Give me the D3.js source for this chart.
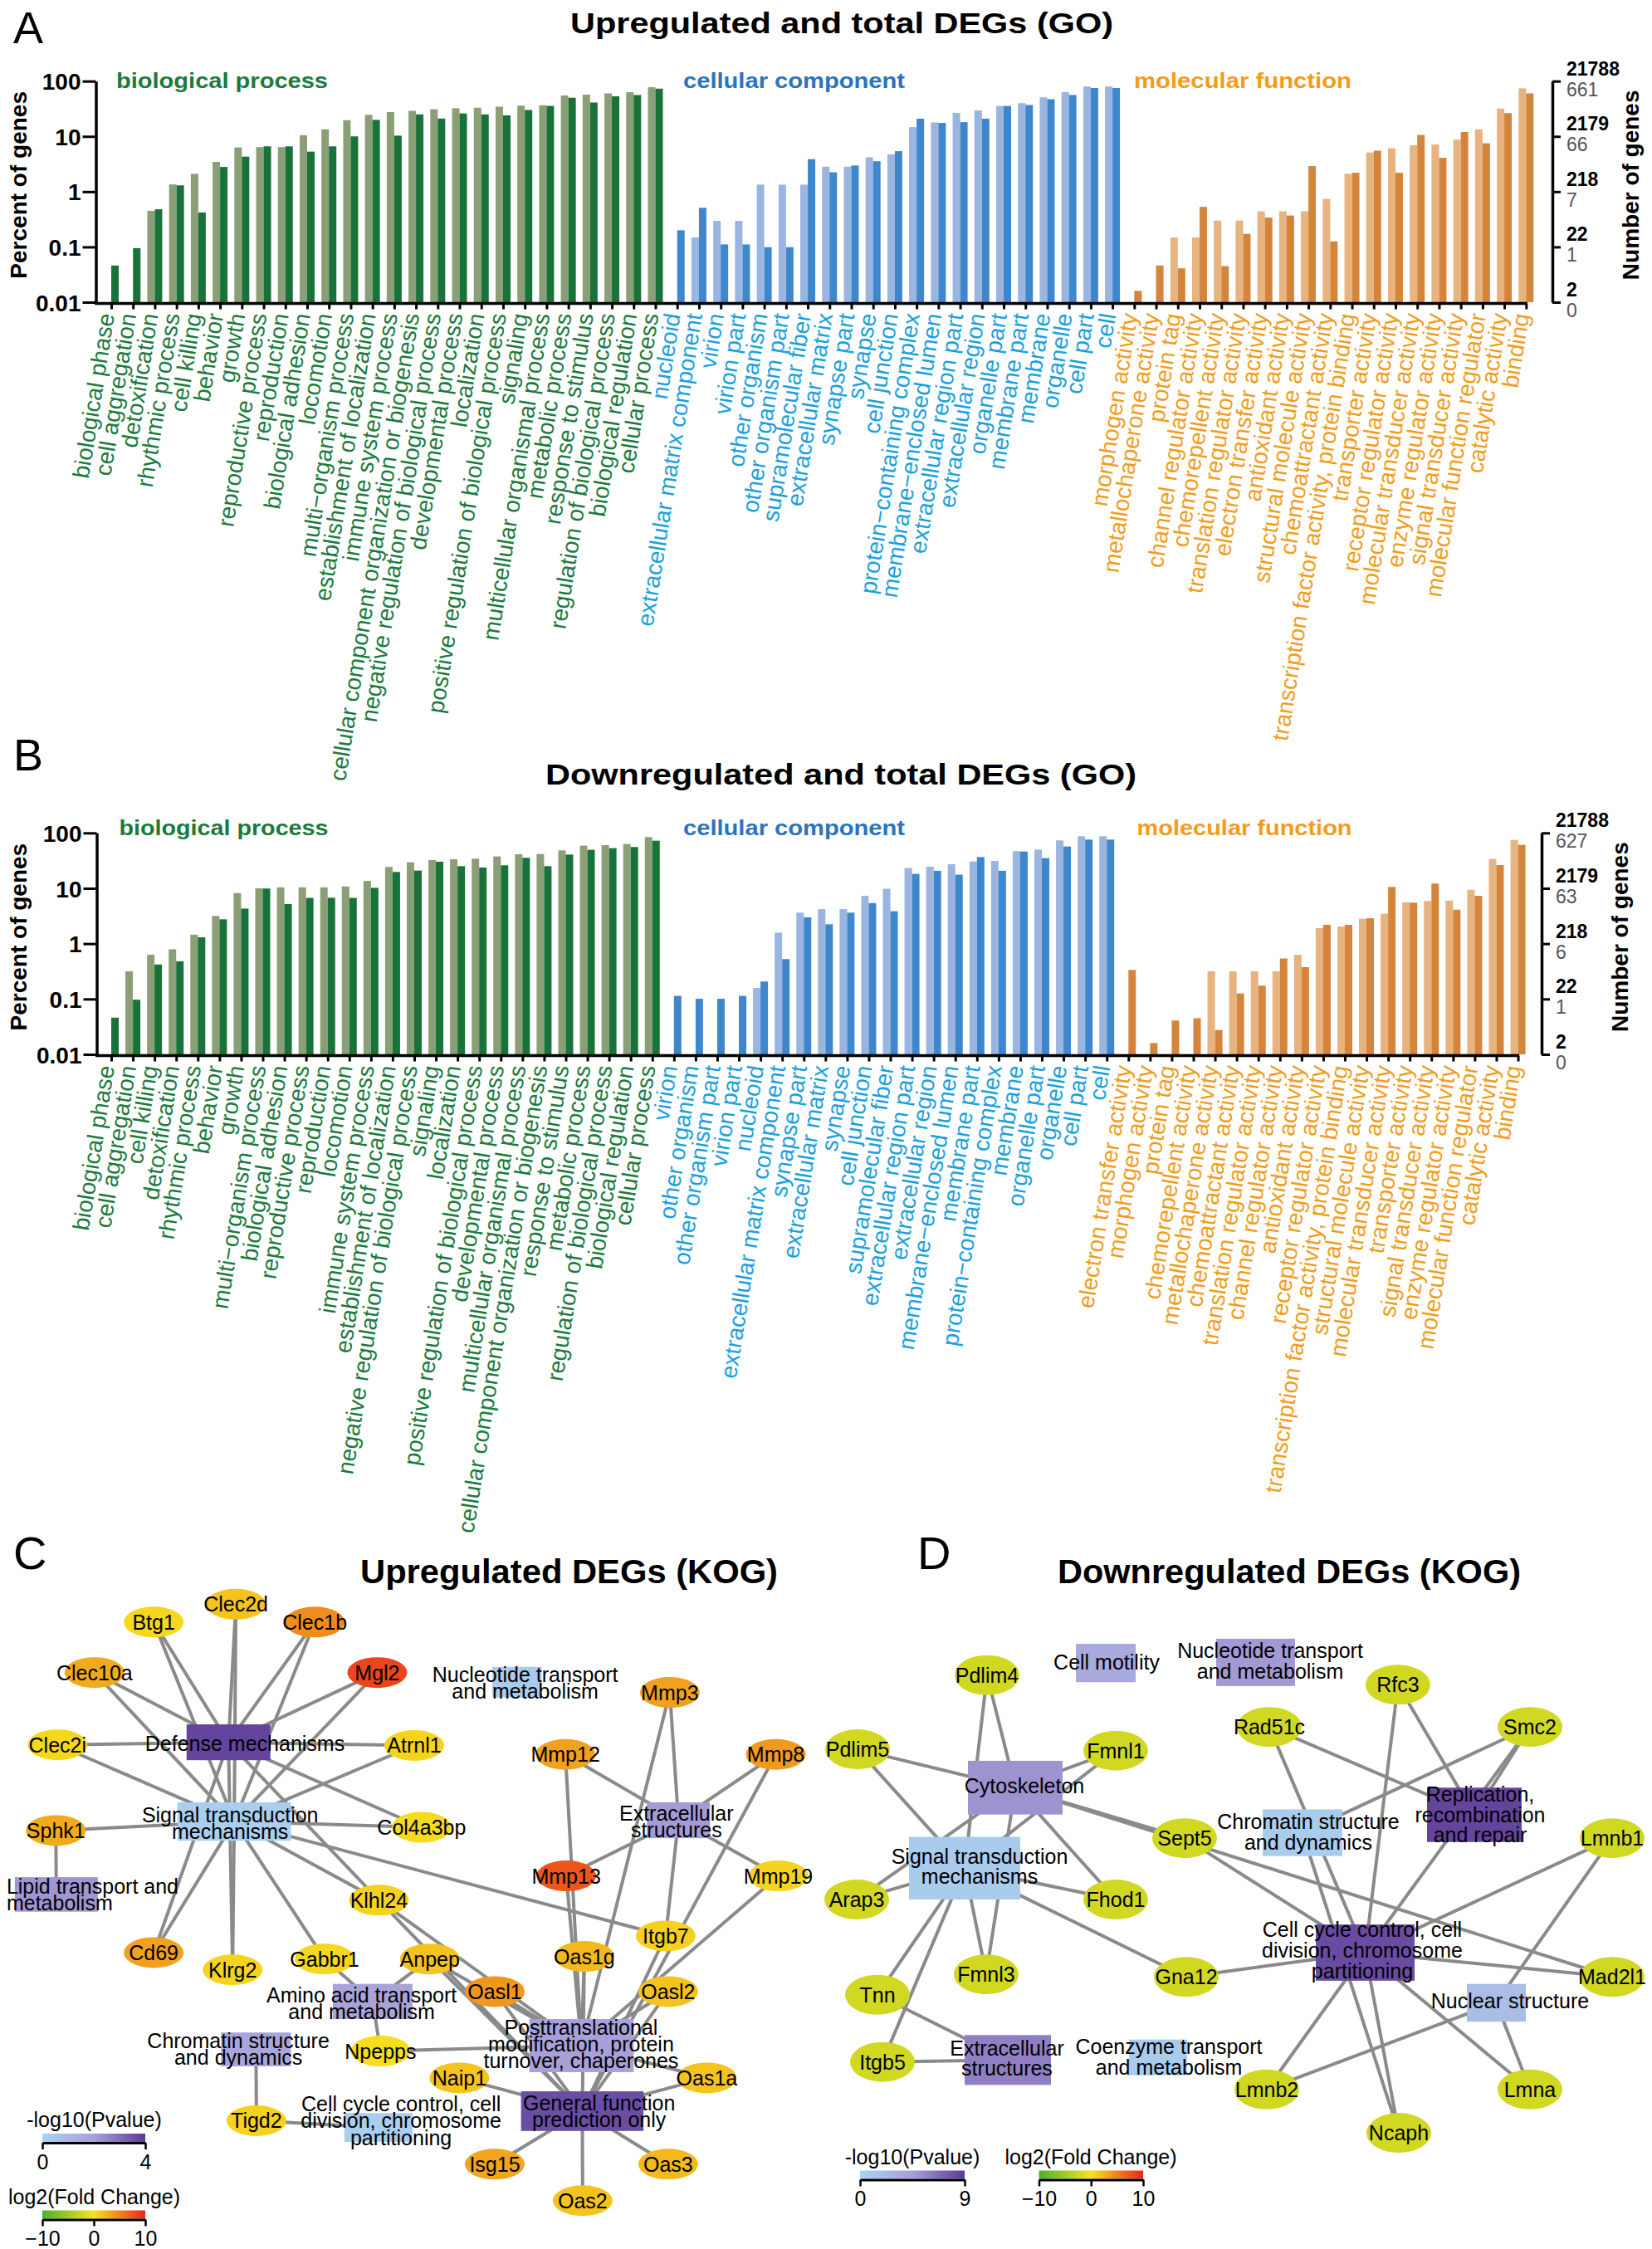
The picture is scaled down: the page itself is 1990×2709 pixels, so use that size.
<!DOCTYPE html>
<html>
<head>
<meta charset="utf-8">
<script src="https://cdn.jsdelivr.net/npm/d3@7"></script>
<style>
  body { margin: 0; background: #fff; }
  svg { display: block; }
  text { font-family: "Liberation Sans", Arial, Helvetica, sans-serif; }
</style>
</head>
<body>
<svg id="fig" width="1990" height="2709"></svg>
<script>
// ---------- GO data (percent of genes) ----------
var goGroups = ["biological process", "cellular component", "molecular function"];

// panel A : upregulated
var upBpNames = ["biological phase","cell aggregation","detoxification","rhythmic process","cell killing","behavior","growth","reproductive process","reproduction","biological adhesion","locomotion","multi\u2212organism process","establishment of localization","immune system process","cellular component organization or biogenesis","negative regulation of biological process","developmental process","localization","positive regulation of biological process","signaling","multicellular organismal process","metabolic process","response to stimulus","regulation of biological process","biological regulation","cellular process"];
var upBpTotal = [null,null,0.45,1.35,2.1,3.45,6.3,6.4,6.4,10.5,13.4,19.6,24.6,27.5,29,31,32.3,33,34.5,36,36.5,55,57,60,63,77.5];
var upBpDeg   = [0.046,0.095,0.48,1.3,0.42,2.8,4.3,6.6,6.6,5.3,6.6,10,19.9,10.3,25,21,26,25,24,30,35.6,50,41,53,56,73];

var upCcNames = ["nucleoid","extracellular matrix component","virion","virion part","other organism","other organism part","supramolecular fiber","extracellular matrix","synapse part","synapse","cell junction","protein\u2212containing complex","membrane\u2212enclosed lumen","extracellular region part","extracellular region","organelle part","membrane part","membrane","organelle","cell part","cell"];
var upCcTotal = [null,0.148,0.296,0.296,1.34,1.34,1.34,2.83,2.83,4.2,4.75,14.7,17.9,26.5,29.4,35.5,40,51,63.5,80,80];
var upCcDeg   = [0.20,0.51,0.111,0.111,0.099,0.099,3.87,2.24,2.97,3.55,5.4,20.9,17.5,18.1,20.9,35.5,37,47,56,75,75];

var upMfNames = ["morphogen activity","metallochaperone activity","protein tag","channel regulator activity","chemorepellent activity","translation regulator activity","electron transfer activity","antioxidant activity","structural molecule activity","chemoattractant activity","transcription factor activity, protein binding","transporter activity","receptor regulator activity","molecular transducer activity","enzyme regulator activity","signal transducer activity","molecular function regulator","catalytic activity","binding"];
var upMfTotal = [null,null,0.148,0.148,0.30,0.30,0.44,0.44,0.44,0.74,2.1,5.1,6.1,6.9,7.1,8.7,13.4,31.8,74];
var upMfDeg   = [0.016,0.046,0.041,0.53,0.045,0.172,0.34,0.37,2.9,0.126,2.2,5.5,2.2,10.6,4.1,12.0,7.5,26.4,60];

// panel B : downregulated
var downBpNames = ["biological phase","cell aggregation","cell killing","detoxification","rhythmic process","behavior","growth","multi\u2212organism process","biological adhesion","reproductive process","reproduction","locomotion","immune system process","establishment of localization","negative regulation of biological process","signaling","localization","positive regulation of biological process","developmental process","multicellular organismal process","cellular component organization or biogenesis","response to stimulus","metabolic process","regulation of biological process","biological regulation","cellular process"];
var downBpTotal = [null,0.316,0.63,0.79,1.45,3.16,8.2,10,10.4,10.4,10.4,10.8,13.6,24.3,29.5,32.4,33.5,34.3,37.6,41.2,41.7,48.4,58.9,60.3,63.1,84.1];
var downBpDeg   = [0.046,0.097,0.42,0.48,1.3,2.75,4.3,9.9,5.2,6.7,6.75,6.7,10.2,19.7,20.9,30.2,25.1,23.7,26.0,35.5,25.1,40.7,49.5,53.1,55.6,72.4];

var downCcNames = ["virion","other organism","other organism part","virion part","nucleoid","extracellular matrix component","synapse part","extracellular matrix","synapse","cell junction","supramolecular fiber","extracellular region part","extracellular region","membrane\u2212enclosed lumen","membrane part","protein\u2212containing complex","membrane","organelle part","organelle","cell part","cell"];
var downCcTotal = [null,null,null,null,0.158,1.58,3.63,4.2,4.2,7.3,9.8,23.2,24.5,27.2,30.5,31.3,46.8,50,73.3,87,87];
var downCcDeg   = [0.114,0.101,0.101,0.114,0.207,0.525,2.99,2.24,3.63,5.4,3.85,18.2,20.7,17.6,36.7,20.7,46.2,35.1,56.9,75.9,75.9];

var downMfNames = ["electron transfer activity","morphogen activity","protein tag","chemorepellent activity","metallochaperone activity","chemoattractant activity","translation regulator activity","channel regulator activity","antioxidant activity","receptor regulator activity","transcription factor activity, protein binding","structural molecule activity","molecular transducer activity","transporter activity","signal transducer activity","enzyme regulator activity","molecular function regulator","catalytic activity","binding"];
var downMfTotal = [null,null,null,null,0.316,0.316,0.316,0.316,0.63,1.9,2.04,2.82,3.47,5.6,5.9,6.0,9.4,33.9,75];
var downMfDeg   = [0.335,0.016,0.041,0.045,0.0275,0.126,0.174,0.54,0.376,2.19,2.19,2.88,10.6,5.5,12.2,4.1,7.3,26.3,61];

var percentTicks = [100, 10, 1, 0.1, 0.01];
var upTotalCounts   = [21788, 2179, 218, 22, 2];
var upDegCounts     = [661, 66, 7, 1, 0];
var downDegCounts   = [627, 63, 6, 1, 0];

// ---------- KOG networks ----------
var upGenes = ["Btg1","Clec2d","Clec1b","Clec10a","Mgl2","Clec2i","Atrnl1","Sphk1","Col4a3bp","Cd69","Klrg2","Gabbr1","Klhl24","Anpep","Npepps","Tigd2","Naip1","Isg15","Oas2","Oas3","Oas1a","Oasl1","Oasl2","Oas1g","Itgb7","Mmp13","Mmp19","Mmp12","Mmp8","Mmp3"];
var upGeneFc = [0.6,1.7,4.6,3.0,8.3,0.6,0.8,3.0,0.4,3.5,0.8,0.6,0.9,1.7,0.3,0.9,1.7,3.3,1.7,2.2,1.7,4.0,1.7,2.2,1.0,7.5,0.8,3.5,3.9,3.5];
var upCatIds = ["DM","ST","Lipid","Nuc","ES","Amino","Chrom","PT","CC","GF"];
var upCatText = [["Defense mechanisms"],["Signal transduction","mechanisms"],["Lipid transport and","metabolism"],["Nucleotide transport","and metabolism"],["Extracellular","structures"],["Amino acid transport","and metabolism"],["Chromatin structure","and dynamics"],["Posttranslational","modification, protein","turnover, chaperones"],["Cell cycle control, cell","division, chromosome","partitioning"],["General function","prediction only"]];
var upCatP = [3.8,0.2,2.2,0.3,2.1,1.9,1.8,2.0,0.2,3.6];
var upEdges = [
  ["Btg1","DM"],["Btg1","ST"],["Clec2d","DM"],["Clec2d","ST"],["Clec1b","DM"],["Clec1b","ST"],
  ["Clec10a","DM"],["Clec10a","ST"],["Mgl2","DM"],["Mgl2","ST"],["Clec2i","DM"],["Clec2i","ST"],
  ["Atrnl1","DM"],["Atrnl1","ST"],["Sphk1","ST"],["Sphk1","Lipid"],["Col4a3bp","ST"],["Col4a3bp","DM"],
  ["Cd69","DM"],["Cd69","ST"],["Klrg2","DM"],["Klrg2","ST"],["Gabbr1","ST"],["Gabbr1","Amino"],
  ["Klhl24","DM"],["Klhl24","ST"],["Klhl24","PT"],["Klhl24","GF"],
  ["Anpep","Amino"],["Anpep","PT"],["Anpep","GF"],["Npepps","Amino"],["Npepps","PT"],
  ["Tigd2","Chrom"],["Tigd2","CC"],["Naip1","GF"],["Isg15","GF"],["Oas2","GF"],["Oas3","GF"],
  ["Oas1a","GF"],["Oas1a","PT"],["Oasl1","GF"],["Oasl1","PT"],["Oasl2","GF"],["Oasl2","PT"],
  ["Oas1g","GF"],["Oas1g","PT"],["Itgb7","ST"],["Itgb7","ES"],["Itgb7","GF"],
  ["Mmp13","ES"],["Mmp13","PT"],["Mmp12","ES"],["Mmp12","PT"],["Mmp3","ES"],["Mmp3","PT"],
  ["Mmp8","ES"],["Mmp8","GF"],["Mmp19","ES"],["Mmp19","PT"]
];

var downGenes = ["Pdlim4","Pdlim5","Fmnl1","Arap3","Fhod1","Fmnl3","Tnn","Itgb5","Sept5","Gna12","Rad51c","Rfc3","Smc2","Lmnb1","Mad2l1","Lmnb2","Ncaph","Lmna"];
var downGeneFc = [-2.2,-2.2,-2.2,-2.2,-2.2,-2.2,-2.2,-2.2,-2.2,-2.2,-2.2,-2.2,-2.2,-2.2,-2.2,-2.2,-2.2,-2.2];
var downCatIds = ["Motil","Nuc","Cyto","ST","ES","Coenz","Chrom","Repl","CC","Nucl"];
var downCatText = [["Cell motility"],["Nucleotide transport","and metabolism"],["Cytoskeleton"],["Signal transduction","mechanisms"],["Extracellular","structures"],["Coenzyme transport","and metabolism"],["Chromatin structure","and dynamics"],["Replication,","recombination","and repair"],["Cell cycle control, cell","division, chromosome","partitioning"],["Nuclear structure"]];
var downCatP = [3.6,4.8,5.1,0.7,5.9,0.6,0.7,8.5,8.2,1.9];
var downEdges = [
  ["Pdlim4","Cyto"],["Pdlim4","ST"],["Pdlim5","Cyto"],["Pdlim5","ST"],["Fmnl1","Cyto"],["Fmnl1","ST"],
  ["Arap3","Cyto"],["Arap3","ST"],["Fhod1","Cyto"],["Fhod1","ST"],["Fmnl3","Cyto"],["Fmnl3","ST"],
  ["Tnn","ST"],["Tnn","ES"],["Itgb5","ST"],["Itgb5","ES"],["Sept5","Cyto"],["Sept5","CC"],
  ["Mad2l1","Cyto"],["Mad2l1","CC"],["Gna12","ST"],["Gna12","CC"],["Rad51c","CC"],["Rad51c","Repl"],
  ["Rfc3","CC"],["Rfc3","Repl"],["Smc2","Chrom"],["Smc2","Repl"],["Smc2","CC"],
  ["Lmnb1","CC"],["Lmnb1","Nucl"],["Lmnb2","CC"],["Lmnb2","Nucl"],["Ncaph","CC"],["Ncaph","Chrom"],
  ["Lmna","CC"],["Lmna","Nucl"]
];

// layout of the networks, in 0-100 units of each panel
var upGeneAt = {Btg1:[18.7,3.1],Clec2d:[28.7,0.3],Clec1b:[38.3,3.1],Clec10a:[11.5,11.0],Mgl2:[45.9,11.0],Clec2i:[7.0,22.3],Atrnl1:[50.4,22.4],Sphk1:[6.8,35.7],Col4a3bp:[51.3,35.2],Cd69:[18.7,54.8],Klrg2:[28.3,57.5],Gabbr1:[39.5,55.8],Klhl24:[46.1,46.6],Anpep:[52.3,55.8],Npepps:[46.3,70.2],Tigd2:[31.2,81.1],Naip1:[55.9,74.4],Isg15:[60.2,87.9],Oas2:[70.9,93.6],Oas3:[81.3,87.9],Oas1a:[86.0,74.4],Oasl1:[60.2,60.9],Oasl2:[81.3,60.9],Oas1g:[71.1,55.4],Itgb7:[81.0,52.2],Mmp13:[68.9,42.8],Mmp19:[94.7,42.8],Mmp12:[68.8,23.8],Mmp8:[94.4,23.8],Mmp3:[81.5,14.1]};
var upBoxAt = {DM:[22.7,19.1,32.9,24.7],ST:[21.6,31.3,35.4,37.3],Lipid:[1.8,43.0,11.9,48.4],Nuc:[59.9,10.1,65.9,14.9],ES:[78.7,31.3,86.4,36.9],Amino:[40.5,59.7,50.2,65.2],Chrom:[26.9,67.3,35.4,72.6],PT:[64.4,65.2,77.1,73.5],CC:[41.9,79.9,50.2,84.4],GF:[63.4,76.5,78.3,82.7]};
var upTextAt = {DM:[29.8,22.1],ST:[28.0,34.5],Lipid:[0.8,45.7,"start"],Nuc:[63.9,12.6],ES:[82.3,34.3],Amino:[44.0,62.7],Chrom:[29.0,69.9],PT:[70.7,69.1],CC:[48.8,81.1],GF:[72.9,79.6]};

var downGeneAt = {Pdlim4:[19.9,11.4],Pdlim5:[4.3,23.0],Fmnl1:[35.4,23.2],Arap3:[4.2,46.5],Fhod1:[35.4,46.5],Fmnl3:[19.8,58.2],Tnn:[6.7,61.4],Itgb5:[7.3,71.9],Sept5:[43.7,36.9],Gna12:[43.9,58.6],Rad51c:[53.9,19.5],Rfc3:[69.4,12.9],Smc2:[85.3,19.5],Lmnb1:[95.2,36.9],Mad2l1:[95.2,58.6],Lmnb2:[53.6,76.2],Ncaph:[69.5,83.0],Lmna:[85.3,76.2]};
var downBoxAt = {Motil:[30.6,6.5,37.8,12.5],Nuc:[47.5,5.7,57.0,13.1],Cyto:[17.6,24.8,29.0,33.2],ST:[10.5,36.7,23.9,46.5],ES:[17.2,67.7,27.6,75.5],Coenz:[37.0,68.4,44.0,74.0],Chrom:[53.1,32.4,62.7,39.7],Repl:[72.9,29.0,84.3,37.5],CC:[59.5,50.4,71.4,59.2],Nucl:[77.7,59.7,84.8,65.6]};
var downTextAt = {Motil:[34.3,9.3],Nuc:[54.0,9.2],Cyto:[24.4,28.7],ST:[19.0,41.3],ES:[22.3,71.3],Coenz:[41.8,71.1],Chrom:[58.6,35.9],Repl:[79.3,33.2],CC:[65.1,54.4],Nucl:[82.9,62.4]};

// ---------- styles ----------
var goColors = [
  {light: "#8b9f76", dark: "#17733a", text: "#1b7a3e", head: "#1b7a3e"},
  {light: "#99b5e0", dark: "#3f87cc", text: "#1ba0de", head: "#2b73bc"},
  {light: "#e7b37f", dark: "#d4853b", text: "#f39c1c", head: "#f39c1c"}
];
var barW = 9;
var svg = d3.select("#fig");

function goPanel(o) {
  var g = svg.append("g");
  var groups = o.groups;
  var n = d3.sum(groups, function(d) { return d.names.length; });
  var x = d3.scalePoint().domain(d3.range(n)).range([o.x0, o.x0 + o.step * (n - 1)]);
  var y = d3.scaleLog().domain([0.01, 100]).range([o.base, o.top]);

  g.append("text").attr("x", o.title.x).attr("y", o.title.y)
    .attr("textLength", o.title.len).attr("lengthAdjust", "spacingAndGlyphs")
    .style("font-size", "35px").style("font-weight", "bold").text(o.title.text);
  g.append("text").attr("x", o.letter.x).attr("y", o.letter.y)
    .style("font-size", "54px").text(o.letter.text);

  var start = 0;
  groups.forEach(function(gr, gi) {
    var col = goColors[gi];
    var rows = gr.names.map(function(nm, i) {
      return {i: start + i, name: nm, total: gr.total[i], deg: gr.deg[i]};
    });
    start += gr.names.length;

    g.selectAll(null).data(rows.filter(function(d) { return d.total != null; }))
      .join("rect")
      .attr("x", function(d) { return x(d.i) - barW; })
      .attr("y", function(d) { return y(d.total); })
      .attr("width", barW)
      .attr("height", function(d) { return o.base - y(d.total); })
      .attr("fill", col.light);
    g.selectAll(null).data(rows.filter(function(d) { return d.deg != null; }))
      .join("rect")
      .attr("x", function(d) { return x(d.i); })
      .attr("y", function(d) { return y(d.deg); })
      .attr("width", barW)
      .attr("height", function(d) { return o.base - y(d.deg); })
      .attr("fill", col.dark);

    g.selectAll(null).data(rows).join("text")
      .attr("transform", function(d) { return "translate(" + (x(d.i) + 4) + "," + (o.base + 15) + ") rotate(-81)"; })
      .attr("text-anchor", "end")
      .style("font-size", "28px")
      .attr("fill", col.text)
      .text(function(d) { return d.name; });

    g.append("text").attr("x", o.heads[gi].x).attr("y", o.headY)
      .attr("textLength", o.heads[gi].len).attr("lengthAdjust", "spacingAndGlyphs")
      .style("font-size", "26px").style("font-weight", "bold")
      .attr("fill", col.head).text(goGroups[gi]);
  });

  // left axis
  var left = g.append("g").attr("transform", "translate(" + o.axisX + ",0)")
    .call(d3.axisLeft(y).tickValues(percentTicks).tickFormat(d3.format("~g")).tickSize(16).tickSizeOuter(0));
  left.select(".domain").attr("stroke-width", 3.5);
  left.selectAll(".tick line").attr("stroke-width", 3);
  left.selectAll(".tick text").attr("x", -18).attr("dy", "0.36em")
    .style("font-size", "28px").style("font-weight", "bold").attr("fill", "#000");

  // x axis line + ticks
  g.append("line").attr("x1", o.axisX - 1.5).attr("x2", x(n - 1) + 1.5)
    .attr("y1", o.base + 1.5).attr("y2", o.base + 1.5)
    .attr("stroke", "#000").attr("stroke-width", 3.5);
  var bottom = g.append("g").attr("transform", "translate(0," + (o.base + 1.5) + ")")
    .call(d3.axisBottom(x).tickSize(7).tickSizeOuter(0).tickFormat(""));
  bottom.select(".domain").remove();
  bottom.selectAll(".tick line").attr("stroke-width", 3);

  // right axis
  var right = g.append("g").attr("transform", "translate(" + o.rightX + ",0)")
    .call(d3.axisRight(y).tickValues(percentTicks).tickSize(10).tickSizeOuter(0).tickFormat(""));
  right.select(".domain").attr("stroke-width", 3.5);
  right.selectAll(".tick line").attr("stroke-width", 3);
  g.selectAll(null).data(percentTicks).join("text")
    .attr("x", o.rightX + 17).attr("y", function(d) { return y(d) - 7; })
    .style("font-size", "23px").style("font-weight", "bold")
    .text(function(d, i) { return upTotalCounts[i]; });
  g.selectAll(null).data(percentTicks).join("text")
    .attr("x", o.rightX + 17).attr("y", function(d) { return y(d) + 18; })
    .style("font-size", "23px").attr("fill", "#555")
    .text(function(d, i) { return o.degCounts[i]; });

  var mid = (o.top + o.base) / 2 - 8;
  g.append("text").attr("transform", "translate(32," + mid + ") rotate(-90)")
    .attr("text-anchor", "middle").style("font-size", "28px").style("font-weight", "bold")
    .text("Percent of genes");
  g.append("text").attr("transform", "translate(" + (o.rightX + 104) + "," + mid + ") rotate(-90)")
    .attr("text-anchor", "middle").style("font-size", "28px").style("font-weight", "bold")
    .text("Number of genes");
}

goPanel({
  top: 97.7, base: 364, axisX: 115.5, x0: 134, step: 26.22, rightX: 1870,
  title: {text: "Upregulated and total DEGs (GO)", x: 687, y: 40, len: 654},
  letter: {text: "A", x: 16, y: 52},
  heads: [{x: 140, len: 255}, {x: 823, len: 267}, {x: 1366, len: 262}], headY: 106,
  degCounts: upDegCounts,
  groups: [
    {names: upBpNames, total: upBpTotal, deg: upBpDeg},
    {names: upCcNames, total: upCcTotal, deg: upCcDeg},
    {names: upMfNames, total: upMfTotal, deg: upMfDeg}
  ]
});

goPanel({
  top: 1003.3, base: 1270, axisX: 116.5, x0: 134, step: 26.07, rightX: 1857,
  title: {text: "Downregulated and total DEGs (GO)", x: 657, y: 945, len: 712},
  letter: {text: "B", x: 16, y: 928},
  heads: [{x: 143.5, len: 252}, {x: 823, len: 267}, {x: 1369.5, len: 259}], headY: 1006,
  degCounts: downDegCounts,
  groups: [
    {names: downBpNames, total: downBpTotal, deg: downBpDeg},
    {names: downCcNames, total: downCcTotal, deg: downCcDeg},
    {names: downMfNames, total: downMfTotal, deg: downMfDeg}
  ]
});

// ---------- networks ----------
var fcColor = d3.scaleLinear().domain([-10, 0, 10]).range(["#4cb131", "#f6e31e", "#e8251b"]);

function gradient(id, scale) {
  var defs = svg.select("defs").empty() ? svg.append("defs") : svg.select("defs");
  var dom = scale.domain();
  var lo = dom[0], hi = dom[dom.length - 1];
  var grad = defs.append("linearGradient").attr("id", id);
  grad.selectAll("stop").data(dom).join("stop")
    .attr("offset", function(d) { return (d - lo) / (hi - lo); })
    .attr("stop-color", function(d) { return scale(d); });
}

function legend(g, L) {
  var s = d3.scaleLinear().domain(L.domain).range([L.x0, L.x1]);
  g.append("text").attr("x", L.tx).attr("y", L.ty).attr("text-anchor", "middle")
    .style("font-size", "25px").text(L.title);
  g.append("rect").attr("x", L.x0).attr("y", L.y).attr("width", L.x1 - L.x0).attr("height", 10)
    .attr("fill", "url(#" + L.grad + ")");
  var ax = g.append("g").attr("transform", "translate(0," + (L.y + 11) + ")")
    .call(d3.axisBottom(s).tickValues(L.ticks).tickSize(8).tickSizeOuter(0)
      .tickFormat(function(d) { return d < 0 ? "\u2212" + Math.abs(d) : d; }));
  ax.select(".domain").attr("stroke-width", 3);
  ax.selectAll(".tick line").attr("stroke-width", 2.5);
  ax.selectAll(".tick text").attr("y", 14).style("font-size", "25px").attr("fill", "#000");
}

function network(o) {
  var g = svg.append("g");
  var xs = d3.scaleLinear().domain([0, 100]).range(o.xr);
  var ys = d3.scaleLinear().domain([0, 100]).range(o.yr);
  var pColor = d3.scaleLinear().domain([0, o.pmax / 2, o.pmax]).range(["#a9d3f0", "#a8a0d8", "#5b3a96"]);
  gradient(o.id + "p", pColor);
  gradient(o.id + "fc", fcColor);

  var cats = o.catIds.map(function(id, i) {
    var b = o.boxAt[id];
    return {id: id, lines: o.catText[i], p: o.catP[i], b: b,
            cx: xs((b[0] + b[2]) / 2), cy: ys((b[1] + b[3]) / 2), t: o.textAt[id]};
  });
  var genes = o.genes.map(function(nm, i) {
    return {id: nm, fc: o.fc[i], cx: xs(o.geneAt[nm][0]), cy: ys(o.geneAt[nm][1])};
  });
  var pos = {};
  cats.concat(genes).forEach(function(d) { pos[d.id] = d; });

  g.selectAll(null).data(o.edges).join("line")
    .attr("x1", function(d) { return pos[d[0]].cx; })
    .attr("y1", function(d) { return pos[d[0]].cy; })
    .attr("x2", function(d) { return pos[d[1]].cx; })
    .attr("y2", function(d) { return pos[d[1]].cy; })
    .attr("stroke", "#8a8a8a").attr("stroke-width", 4);

  g.selectAll(null).data(cats).join("rect")
    .attr("x", function(d) { return xs(d.b[0]); })
    .attr("y", function(d) { return ys(d.b[1]); })
    .attr("width", function(d) { return xs(d.b[2]) - xs(d.b[0]); })
    .attr("height", function(d) { return ys(d.b[3]) - ys(d.b[1]); })
    .attr("fill", function(d) { return pColor(d.p); });

  g.selectAll(null).data(genes).join("ellipse")
    .attr("cx", function(d) { return d.cx; }).attr("cy", function(d) { return d.cy; })
    .attr("rx", o.rx).attr("ry", o.ry)
    .attr("fill", function(d) { return fcColor(d.fc); });

  g.selectAll(null).data(genes).join("text")
    .attr("x", function(d) { return d.cx; }).attr("y", function(d) { return d.cy + 9; })
    .attr("text-anchor", "middle").style("font-size", "25px")
    .text(function(d) { return d.id; });

  var ct = g.selectAll(null).data(cats).join("text")
    .attr("text-anchor", function(d) { return d.t[2] || "middle"; })
    .style("font-size", "25px");
  ct.selectAll("tspan").data(function(d) {
      return d.lines.map(function(l, k) {
        return {l: l, x: xs(d.t[0]), y: ys(d.t[1]) + 9 + (k - (d.lines.length - 1) / 2) * o.lh};
      });
    }).join("tspan")
    .attr("x", function(d) { return d.x; }).attr("y", function(d) { return d.y; })
    .text(function(d) { return d.l; });

  g.append("text").attr("x", o.title.x).attr("y", 1907)
    .attr("textLength", o.title.len).attr("lengthAdjust", "spacingAndGlyphs")
    .style("font-size", "40px").style("font-weight", "bold").text(o.title.text);
  g.append("text").attr("x", o.letter.x).attr("y", 1890).style("font-size", "56px").text(o.letter.text);

  o.legends.forEach(function(L) {
    L.grad = o.id + L.kind;
    L.domain = L.kind === "p" ? [0, o.pmax] : [-10, 10];
    L.ticks = L.kind === "p" ? [0, o.pmax] : [-10, 0, 10];
    L.title = L.kind === "p" ? "-log10(Pvalue)" : "log2(Fold Change)";
    legend(g, L);
  });
}

network({
  id: "up", xr: [0, 990], yr: [1930, 2700], pmax: 4, rx: 36, ry: 18.5, lh: 20.3,
  genes: upGenes, fc: upGeneFc, geneAt: upGeneAt,
  catIds: upCatIds, catText: upCatText, catP: upCatP, boxAt: upBoxAt, textAt: upTextAt,
  edges: upEdges,
  title: {text: "Upregulated DEGs (KOG)", x: 434, len: 503},
  letter: {text: "C", x: 16},
  legends: [
    {kind: "p", tx: 113.5, ty: 2562, x0: 51, x1: 175, y: 2570},
    {kind: "fc", tx: 113.5, ty: 2655, x0: 51, x1: 175, y: 2662.5}
  ]
});

network({
  id: "down", xr: [990, 1990], yr: [1930, 2700], pmax: 9, rx: 39, ry: 24, lh: 24.8,
  genes: downGenes, fc: downGeneFc, geneAt: downGeneAt,
  catIds: downCatIds, catText: downCatText, catP: downCatP, boxAt: downBoxAt, textAt: downTextAt,
  edges: downEdges,
  title: {text: "Downregulated DEGs (KOG)", x: 1274, len: 558},
  letter: {text: "D", x: 1105},
  legends: [
    {kind: "p", tx: 1099, ty: 2607, x0: 1036, x1: 1162, y: 2614.5},
    {kind: "fc", tx: 1314, ty: 2607, x0: 1251.5, x1: 1377, y: 2614.5}
  ]
});
</script>
</body>
</html>
